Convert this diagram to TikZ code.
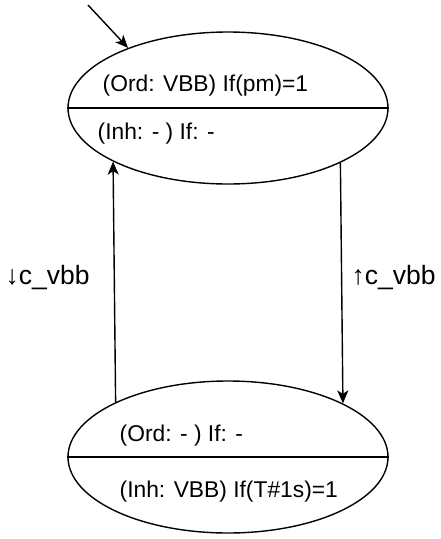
\documentclass[tikz,border=0pt]{standalone}
\usepackage{fontspec}
\setmainfont{Liberation Sans}
\usetikzlibrary{arrows.meta,shapes.geometric}
\begin{document}
\begin{tikzpicture}[x=1pt,y=-1pt,
  line width=1.4pt,
  state/.style={draw, ellipse, minimum width=320pt, minimum height=152pt, inner sep=0pt},
  txt/.style={anchor=base west, inner sep=0pt, font=\fontsize{22.8}{27}\selectfont},
  lbl/.style={anchor=base west, inner sep=0pt, font=\fontsize{26.5}{30}\selectfont},
  arr/.style={-{Stealth[length=13pt,width=11pt,inset=3.5pt]}}
]
\useasboundingbox (0,0) rectangle (440,539);
\node[state] (top) at (228,108) {};
\node[state] (bot) at (228,457) {};
\draw (top.west) -- (top.east);
\draw (bot.west) -- (bot.east);
\node[txt] (t1) at (102,91) {(Ord: VBB) If(pm)=1};
\node[txt] (t2) at (97,139) {(Inh: - ) If: -};
\node[txt] (b1) at (119,441) {(Ord: - ) If: -};
\node[txt] (b2) at (119,497) {(Inh: VBB) If(T\#1s)=1};
\coordinate (init) at (88,5);
\draw[arr] (init) -- (top.149);
\draw[arr] (bot.154.54) -- (top.205.46);
\draw[arr] (top.334.54) -- (bot.25.46);
\node[lbl] (l1) at (5,284) {↓c\_vbb};
\node[lbl] (l2) at (351,284) {↑c\_vbb};
\end{tikzpicture}
\end{document}
